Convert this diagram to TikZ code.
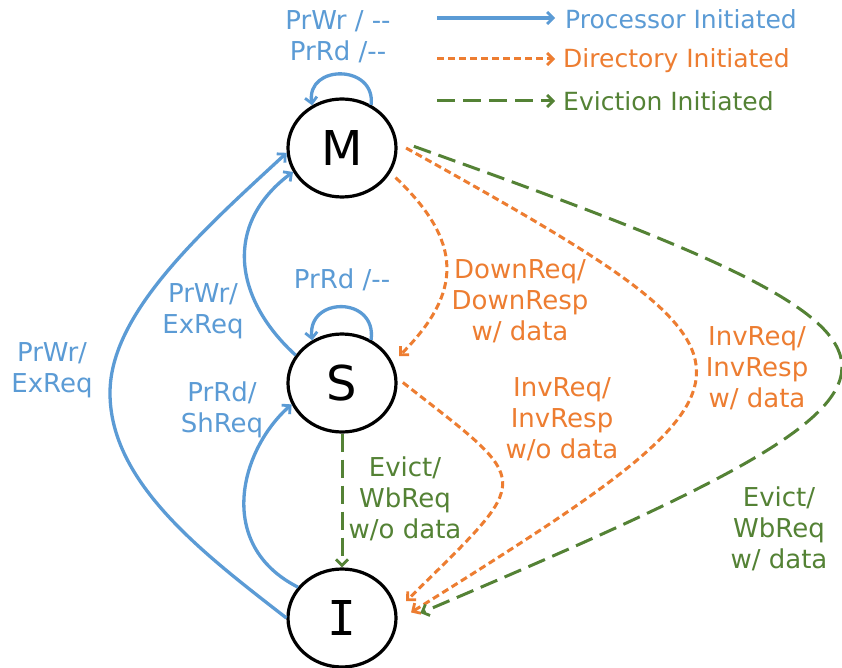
\documentclass[tikz,border=0pt]{standalone}
\usepackage{fontspec}
\setmainfont{DejaVu Sans}
\newfontfamily\monoI{DejaVu Sans Mono}
\usetikzlibrary{arrows.meta,shapes.geometric}
\definecolor{pblue}{HTML}{5B9BD5}
\definecolor{dorange}{HTML}{ED7D31}
\definecolor{egreen}{HTML}{548235}
\begin{document}
\begin{tikzpicture}[x=1pt,y=-1pt,
  state/.style={ellipse,draw=black,line width=3.2pt,minimum width=108pt,minimum height=98pt,inner sep=0pt,font=\fontsize{48}{48}\selectfont},
  lbl/.style={align=center,inner sep=0pt,font=\fontsize{26}{31}\selectfont},
  leg/.style={inner sep=0pt,font=\fontsize{25}{31}\selectfont},
  tip/.style={-{Straight Barb[length=6pt,width=12pt,line width=2.8pt]}},
  proc/.style={draw=pblue,line width=3.3pt,tip},
  dirx/.style={draw=dorange,line width=3pt,dash pattern=on 7pt off 4pt,tip},
  evi/.style={draw=egreen,line width=3pt,dash pattern=on 18pt off 8pt,tip},
]
\fill[white] (0,0) rectangle (842,668);
\useasboundingbox (0,0) rectangle (842,668);

% states
\node[state] (M) at (342,148) {M};
\node[state] (S) at (342,383) {S};
\node[state] (I) at (342,618) {{\monoI I}};

% legend
\coordinate (l1a) at (437,18);  \coordinate (l1b) at (555,18);
\coordinate (l2a) at (437,59);  \coordinate (l2b) at (555,59);
\coordinate (l3a) at (437,101); \coordinate (l3b) at (555,101);
\draw[proc] (l1a) -- (l1b);
\draw[dirx] (l2a) -- (l2b);
\draw[evi] (l3a) -- (l3b);
\node[leg,anchor=base west,text=pblue] (t1) at (565,29) {Processor Initiated};
\node[leg,anchor=base west,text=dorange] (t2) at (563,68) {Directory Initiated};
\node[leg,anchor=base west,text=egreen] (t3) at (563,111) {Eviction Initiated};

% processor initiated
\draw[proc] (M.56) .. controls (376,64) and (306,64) .. (M.125);
\draw[proc] (S.56) .. controls (377,296) and (307,296) .. (S.125);
\draw[proc] (S.149) .. controls (235,300) and (222,225) .. (M.206);
\coordinate (lm) at (110,393);
\draw[proc] (I.180) .. controls (204,554) and (110,483) .. (lm) .. controls (110,313) and (202,231) .. (M.185);
\draw[proc] (I.145) .. controls (215,545) and (240,450) .. (S.203);

% directory initiated
\draw[dirx,shorten <=7pt,shorten >=9pt] (M.333) .. controls (463,242) and (463,292) .. (S.22);
\draw[dirx,shorten <=7pt,shorten >=13pt] (S.5) .. controls (535,486) and (535,474) .. (I.8);
\draw[dirx,shorten <=10pt,shorten >=16pt] (M.5) .. controls (792,363) and (792,374) .. (I.357);

% eviction initiated
\draw[evi] (S.south) -- (I.north);
\draw[evi,shorten <=18pt,shorten >=25pt] (M.8) .. controls (983,350) and (983,374) .. (I.355);

% labels
\node[lbl,text=pblue] (lM) at (338,37) {PrWr / -{}-\\PrRd /-{}-};
\node[lbl,text=pblue] (lS) at (342,280) {PrRd /-{}-};
\node[lbl,text=pblue] (lSM) at (203,311) {PrWr/\\ExReq};
\node[lbl,text=pblue] (lIM) at (52,370) {PrWr/\\ExReq};
\node[lbl,text=pblue] (lIS) at (222,410) {PrRd/\\ShReq};
\node[lbl,text=egreen] (lSI) at (405,499) {Evict/\\WbReq\\w/o data};
\node[lbl,text=dorange] (lMS) at (520,301) {DownReq/\\DownResp\\w/ data};
\node[lbl,text=dorange] (lSIo) at (562,419) {InvReq/\\InvResp\\w/o data};
\node[lbl,text=dorange] (lMIo) at (757,368) {InvReq/\\InvResp\\w/ data};
\node[lbl,text=egreen] (lMIg) at (779,529) {Evict/\\WbReq\\w/ data};
\end{tikzpicture}
\end{document}
